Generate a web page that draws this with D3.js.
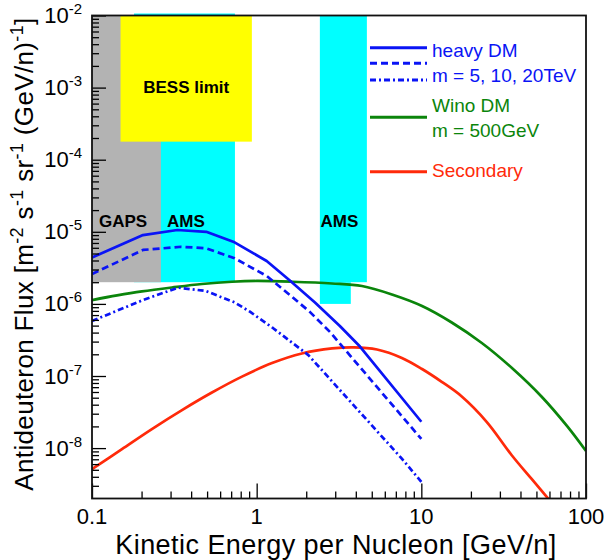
<!DOCTYPE html>
<html><head><meta charset="utf-8">
<script src="https://cdn.jsdelivr.net/npm/d3@7"></script>
<style>
body{margin:0;background:#fff}
svg{display:block;font-family:Arial,"Liberation Sans",Helvetica,sans-serif}
</style>
</head><body>
<svg id="c" width="610" height="560"></svg>
<script>
// ---------- data ----------
// heavy DM, m = 5 TeV (solid)
const heavy5E = [0.1, 0.204, 0.33, 0.494, 0.734, 1.15, 1.59, 2.26, 3.2, 4.24, 10];
const heavy5F = [4.4e-6, 9.0e-6, 1.06e-5, 1.0e-5, 7.15e-6, 3.94e-6, 2.11e-6, 1.045e-6, 4.93e-7, 2.56e-7, 2.32e-8];
// heavy DM, m = 10 TeV (dashed)
const heavy10E = [0.1, 0.204, 0.348, 0.494, 0.734, 1.15, 1.59, 2.11, 2.79, 10];
const heavy10F = [2.6e-6, 5.6e-6, 6.2e-6, 5.9e-6, 4.3e-6, 2.44e-6, 1.33e-6, 7.7e-7, 4.07e-7, 1.34e-8];
// heavy DM, m = 20 TeV (dash-dot)
const heavy20E = [0.1, 0.204, 0.333, 0.492, 0.734, 0.91, 1.26, 2.06, 7.59, 10];
const heavy20F = [5.8e-7, 1.13e-6, 1.68e-6, 1.51e-6, 1.05e-6, 7.8e-7, 4.6e-7, 1.95e-7, 7.2e-9, 3.4e-9];
// Wino DM, m = 500 GeV
const winoE = [0.1, 0.142, 0.201, 0.306, 0.465, 0.708, 1.0, 1.64, 2.87, 4.36, 6.63, 10.1, 15.3, 23.3, 35.5, 54.0, 76.6, 100];
const winoF = [1.13e-6, 1.31e-6, 1.49e-6, 1.69e-6, 1.89e-6, 2.03e-6, 2.08e-6, 2.03e-6, 1.92e-6, 1.77e-6, 1.35e-6, 9.35e-7, 5.52e-7, 2.87e-7, 1.29e-7, 5.12e-8, 2.03e-8, 9.1e-9];
// Secondary
const secE = [0.1, 0.152, 0.231, 0.352, 0.535, 0.814, 1.24, 1.88, 2.87, 3.9, 5.38, 7.62, 10.1, 13.3, 17.6, 25.0, 35.5, 46.9, 62.1];
const secF = [5.1e-9, 9.7e-9, 1.84e-8, 3.37e-8, 5.9e-8, 9.8e-8, 1.51e-7, 2.05e-7, 2.41e-7, 2.5e-7, 2.33e-7, 1.78e-7, 1.25e-7, 8.3e-8, 5.2e-8, 2.3e-8, 7.9e-9, 3.7e-9, 1.73e-9];

// sensitivity regions (energy range, flux range)
const amsLowE = [0.18, 0.738],  amsLowF = [2.0e-6, 1e-2];
const amsHighE = [2.42, 4.67],  amsHighF = [2.0e-6, 1e-2];
const amsHigh2E = [2.42, 3.73], amsHigh2F = [1.0e-6, 2.0e-6];
const gapsE = [0.1, 0.262],     gapsF = [2.0e-6, 1e-2];
const bessE = [0.149, 0.935],   bessF = [1.78e-4, 1e-2];

// axes
const xDomain = [0.1, 100];
const yDomain = [2e-9, 1e-2];
const xTickVals = [0.1, 1, 10, 100];
const xTickLabels = ["0.1", "1", "10", "100"];
const yTickExps = [-2, -3, -4, -5, -6, -7, -8];

// ---------- drawing ----------
const svg = d3.select("#c");
const L = 92, R = 586, T = 15.5, B = 498.5;
const x = d3.scaleLog().domain(xDomain).range([L, R]);
const y = d3.scaleLog().domain(yDomain).range([B, T]);

const BLUE = "#0a14f5", GREEN = "#0b850b", RED = "#ff2a0a";

svg.append("defs").append("clipPath").attr("id", "clip")
  .append("rect").attr("x", L).attr("y", T - 3).attr("width", R - L).attr("height", B - T + 3);

function region(E, F, fill, over) {
  svg.append("rect")
    .attr("x", x(E[0])).attr("width", x(E[1]) - x(E[0]))
    .attr("y", y(F[1]) - (over || 0)).attr("height", y(F[0]) - y(F[1]) + (over || 0))
    .attr("fill", fill);
}
region(amsLowE, amsLowF, "#00ffff", 2);
region(amsHighE, amsHighF, "#00ffff");
region(amsHigh2E, amsHigh2F, "#00ffff");
region(gapsE, gapsF, "#b3b3b3");
region(bessE, bessF, "#ffff00");

// region labels
const lbl = svg.append("g").attr("font-weight", "bold").attr("font-size", 17).attr("fill", "#000");
lbl.append("text").attr("x", (x(bessE[0]) + x(bessE[1])) / 2).attr("y", 92.5).attr("text-anchor", "middle").text("BESS limit");
lbl.append("text").attr("x", 99).attr("y", 226.7).text("GAPS");
lbl.append("text").attr("x", 167).attr("y", 226.7).text("AMS");
lbl.append("text").attr("x", 320.5).attr("y", 226.7).text("AMS");

// curves
const line = d3.line().x(d => x(d[0])).y(d => y(d[1]));
const smooth = d3.line().x(d => x(d[0])).y(d => y(d[1])).curve(d3.curveCatmullRom.alpha(0.5));
const g = svg.append("g").attr("clip-path", "url(#clip)").attr("fill", "none").attr("stroke-linejoin", "round");
function curve(E, F, color, dash, gen) {
  g.append("path").datum(E.map((e, i) => [e, F[i]]))
    .attr("d", gen).attr("stroke", color).attr("stroke-width", 2.7)
    .attr("stroke-dasharray", dash);
}
curve(secE, secF, RED, null, smooth);
curve(winoE, winoF, GREEN, null, smooth);
curve(heavy20E, heavy20F, BLUE, "6,3,2,3", line);
curve(heavy10E, heavy10F, BLUE, "7,4", line);
curve(heavy5E, heavy5F, BLUE, null, line);

// axes ticks (inward)
function minors(lo, hi) {
  const out = [];
  for (let p = Math.floor(Math.log10(lo)); p < Math.ceil(Math.log10(hi)); p++)
    for (let k = 2; k <= 9; k++) { const v = k * Math.pow(10, p); if (v > lo * 1.0001 && v < hi) out.push(v); }
  return out;
}
const yMajor = yTickExps.map(e => Math.pow(10, e));
function styleAxis(sel) { sel.select(".domain").remove(); sel.selectAll("line").attr("stroke", "#000").attr("stroke-width", 1.3); sel.selectAll("text").remove(); }
svg.append("g").attr("transform", `translate(${L},0)`)
  .call(d3.axisLeft(y).tickValues(yMajor).tickSizeInner(-14).tickSizeOuter(0)).call(styleAxis);
svg.append("g").attr("transform", `translate(${L},0)`)
  .call(d3.axisLeft(y).tickValues(minors(yDomain[0], yDomain[1])).tickSizeInner(-7).tickSizeOuter(0)).call(styleAxis);
svg.append("g").attr("transform", `translate(0,${B})`)
  .call(d3.axisBottom(x).tickValues(xTickVals).tickSizeInner(-15).tickSizeOuter(0)).call(styleAxis);
svg.append("g").attr("transform", `translate(0,${B})`)
  .call(d3.axisBottom(x).tickValues(minors(xDomain[0], xDomain[1])).tickSizeInner(-7).tickSizeOuter(0)).call(styleAxis);

// frame
svg.append("rect").attr("x", L).attr("y", T).attr("width", R - L).attr("height", B - T)
  .attr("fill", "none").attr("stroke", "#111").attr("stroke-width", 1.8);

// y tick labels
yTickExps.forEach(e => {
  const t = svg.append("text").attr("x", 82).attr("y", y(Math.pow(10, e)) + 7.5)
    .attr("text-anchor", "end").attr("font-size", 22).attr("fill", "#000");
  t.append("tspan").text("10");
  t.append("tspan").attr("dy", -9).attr("font-size", 15).text(String(e));
});
// x tick labels
xTickVals.forEach((v, i) => {
  svg.append("text").attr("x", x(v)).attr("y", 523.5).attr("text-anchor", "middle")
    .attr("font-size", 22).attr("fill", "#000").text(xTickLabels[i]);
});

// axis titles
svg.append("text").attr("x", 336).attr("y", 553.5).attr("text-anchor", "middle")
  .attr("font-size", 27).attr("letter-spacing", 0.45).attr("fill", "#000").text("Kinetic Energy per Nucleon [GeV/n]");
const yt = svg.append("text").attr("transform", "translate(33,254) rotate(-90)")
  .attr("text-anchor", "middle").attr("font-size", 26).attr("letter-spacing", 0.35).attr("fill", "#000");
[["Antideuteron Flux [m", null], ["-2", "sup"], [" s", null], ["-1", "sup"], [" sr", null], ["-1", "sup"],
 [" (GeV/n)", null], ["-1", "sup"], ["]", null]].forEach(([s, k], i, arr) => {
  const ts = yt.append("tspan").text(s);
  if (k === "sup") ts.attr("dy", -10).attr("font-size", 18);
  else if (i > 0 && arr[i - 1][1] === "sup") ts.attr("dy", 10);
});

// legend
const leg = svg.append("g").attr("font-size", 19);
const lx0 = 370, lx1 = 427, tx = 432;
[[47.7, BLUE, null], [63.3, BLUE, "7,4"], [80, BLUE, "6,3,2,3"], [117.3, GREEN, null], [171.7, RED, null]]
  .forEach(([yy, c, d]) => leg.append("line").attr("x1", lx0).attr("x2", lx1).attr("y1", yy).attr("y2", yy)
    .attr("stroke", c).attr("stroke-width", 3).attr("stroke-dasharray", d));
[["heavy DM", 57.3, BLUE], ["m = 5, 10, 20TeV", 82.3, BLUE], ["Wino DM", 111.7, GREEN],
 ["m = 500GeV", 137.3, GREEN], ["Secondary", 176.7, RED]]
  .forEach(([s, yy, c]) => leg.append("text").attr("x", tx).attr("y", yy).attr("fill", c).text(s));
</script>
</body></html>
